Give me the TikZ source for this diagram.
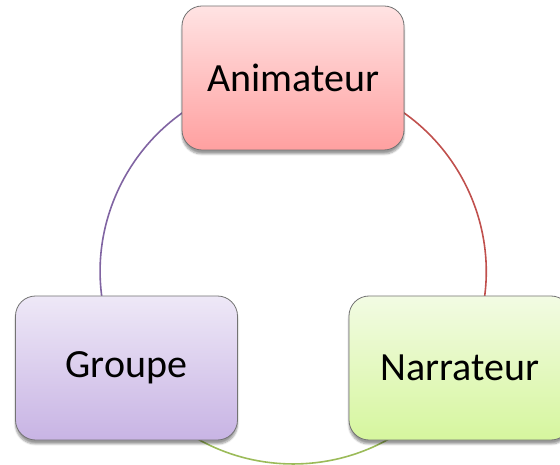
\documentclass[tikz,border=0pt]{standalone}
\usepackage{fontspec}
\setmainfont{Carlito}
\usetikzlibrary{shadows.blur,backgrounds}

\definecolor{anitop}{HTML}{FFE3E3}
\definecolor{anibot}{HTML}{FFA0A0}
\definecolor{grptop}{HTML}{EEE8F7}
\definecolor{grpbot}{HTML}{C8B4E4}
\definecolor{nartop}{HTML}{F2FBE3}
\definecolor{narbot}{HTML}{D6F69E}
\definecolor{anilink}{HTML}{C0504D}
\definecolor{grplink}{HTML}{8064A2}
\definecolor{narlink}{HTML}{9BBB59}

\begin{document}
\begin{tikzpicture}[x=1pt,y=1pt,
  role node/.style={rectangle,rounded corners=20pt,draw=black!55,line width=0.8pt,
    minimum width=222pt,minimum height=144pt,font=\fontsize{40}{48}\selectfont,
    blur shadow={shadow xshift=0pt,shadow yshift=-4pt,shadow blur steps=6,shadow opacity=40}},
  link/.style={line width=1.6pt,bend right=60,looseness=1.136}]

  \useasboundingbox (0,0) rectangle (560,464);

  \node[role node,top color=anitop,bottom color=anibot] (anim) at (293,386) {Animateur};
  \node[role node,top color=grptop,bottom color=grpbot] (grp) at (126.5,96) {Groupe};
  \node[role node,top color=nartop,bottom color=narbot] (narr) at (460,96) {Narrateur};

  \begin{pgfonlayer}{background}
  \path
    (anim.center) edge[link,draw=grplink] (grp.center)
    (grp.center) edge[link,draw=narlink] (narr.center)
    (narr.center) edge[link,draw=anilink] (anim.center) ;
  \end{pgfonlayer}

\end{tikzpicture}
\end{document}
